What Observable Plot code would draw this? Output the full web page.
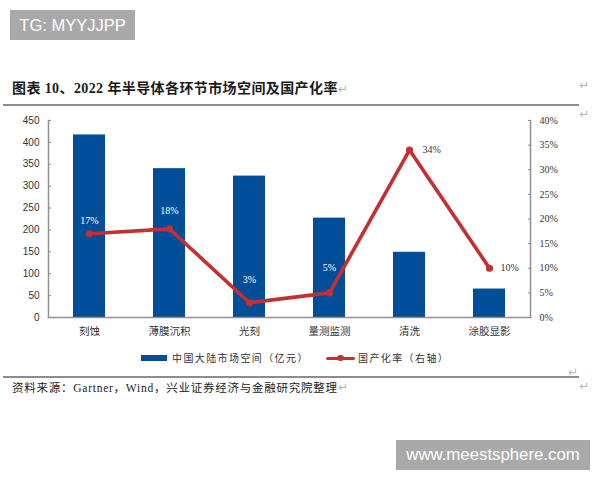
<!DOCTYPE html>
<html><head><meta charset="utf-8">
<script src="https://cdn.jsdelivr.net/npm/d3@7"></script>
<script src="https://cdn.jsdelivr.net/npm/@observablehq/plot@0.6"></script>
<style>
html,body{margin:0;padding:0;background:#fff;width:600px;height:480px;overflow:hidden}
#root{position:relative;width:600px;height:480px;font-family:"Noto Sans CJK SC",sans-serif}
#root svg{position:absolute;left:0;top:0}
.a{position:absolute;white-space:nowrap}
.badge{background:#a9a9a9;color:#fff;font-family:"Liberation Sans",sans-serif;text-align:center;height:30px;line-height:30px}
.rule{background:#8c8c8c;height:2px}
.ret{color:#b5b5b5;font-family:"DejaVu Sans",sans-serif;font-size:12px;line-height:12px}
.leg{font-size:10px;color:#333;letter-spacing:1.4px;line-height:14px}
</style></head><body><div id="root"></div>
<script>
const categories=["刻蚀","薄膜沉积","光刻","量测监测","清洗","涂胶显影"];
const marketSize=[417,340,323,227,149,65];
const localRate=[17,18,3,5,34,10];
const leftTicks=[0,50,100,150,200,250,300,350,400,450];
const rightTicks=[0,5,10,15,20,25,30,35,40];
const titleText="图表 10、2022 年半导体各环节市场空间及国产化率";
const sourceText="资料来源：Gartner，Wind，兴业证券经济与金融研究院整理";
const legendBar="中国大陆市场空间（亿元）";
const legendLine="国产化率（右轴）";
const badgeLeft="TG: MYYJJPP";
const badgeRight="www.meestsphere.com";

const rows=categories.map((c,i)=>({c,v:marketSize[i],r:localRate[i],y2:localRate[i]*450/40,lab:localRate[i]+"%"}));
const LEFT=48,RIGHT=530,TOP=120,BOT=317;
const red="#c62f2f",blue="#004e97",axisGray="#8f8f8f";
const serif='"Liberation Serif",serif', sans='"Liberation Sans",sans-serif';
const inside=(i,dy)=>Plot.text([rows[i]],{x:"c",y:"y2",text:"lab",dy,fill:"#fff",fontSize:10,fontFamily:serif});
const outside=(i,dx)=>Plot.text([rows[i]],{x:"c",y:"y2",text:"lab",dx,textAnchor:"start",fill:"#333",fontSize:10,fontFamily:serif});

const chart=Plot.plot({
  width:600,height:480,
  marginLeft:LEFT,marginRight:600-RIGHT,marginTop:TOP,marginBottom:480-BOT,
  style:{background:"transparent",overflow:"visible"},
  x:{domain:categories,paddingInner:0.6,paddingOuter:0.3,label:null},
  y:{domain:[0,450],label:null},
  marks:[
    Plot.barY(rows,{x:"c",y:"v",fill:blue}),
    Plot.frame({anchor:"left",stroke:axisGray,strokeWidth:1.5}),
    Plot.frame({anchor:"right",stroke:axisGray,strokeWidth:1.5}),
    Plot.frame({anchor:"bottom",stroke:axisGray,strokeWidth:1.5}),
    Plot.axisY({anchor:"left",ticks:leftTicks,tickSize:-3,tickPadding:12,stroke:axisGray,fill:"#333",fontSize:10,fontFamily:sans,label:null}),
    Plot.axisY({anchor:"right",ticks:rightTicks.map(d=>d*450/40),tickFormat:d=>Math.round(d*40/450)+"%",tickSize:-3,tickPadding:12,stroke:axisGray,fill:"#333",fontSize:10,fontFamily:serif,label:null}),
    Plot.axisX({anchor:"bottom",tickSize:0,tickPadding:10,fill:"#333",fontSize:10.5,fontFamily:'"Noto Sans CJK SC",sans-serif',label:null,style:{letterSpacing:"1.4px"}}),
    Plot.line(rows,{x:"c",y:"y2",stroke:red,strokeWidth:3.6,strokeLinejoin:"miter"}),
    Plot.dot(rows,{x:"c",y:"y2",r:3.6,fill:red}),
    inside(0,-13),inside(1,-18),inside(2,-23),inside(3,-25),
    outside(4,13),outside(5,11)
  ]
});
const root=document.getElementById("root");
root.appendChild(chart);
function add(cls,css,text){const d=document.createElement("div");d.className="a "+cls;d.style.cssText=css;if(text!=null)d.textContent=text;root.appendChild(d);return d}
add("badge","left:10px;top:10px;width:125px;font-size:16.5px",badgeLeft);
add("badge","left:396px;top:440px;width:194px;font-size:16.8px",badgeRight);
add("","left:12px;top:80px;font-size:14px;font-weight:700;color:#1a1a1a;line-height:18px;letter-spacing:0.4px;font-family:'Liberation Serif','Noto Sans CJK SC',serif",titleText);
add("rule","left:3px;top:104px;width:576px");
add("rule","left:3px;top:376px;width:576px");
add("","left:12px;top:380px;font-size:11.5px;color:#222;line-height:16px;letter-spacing:0.75px;font-family:'Liberation Serif','Noto Sans CJK SC',serif",sourceText);
add("","left:141px;top:355px;width:26px;height:6px;background:"+blue);
add("leg","left:172px;top:351px",legendBar);
add("","left:326px;top:356.5px;width:29px;height:3px;border-radius:2px;background:"+red);
add("","left:337px;top:355px;width:7px;height:6px;border-radius:50%;background:"+red);
add("leg","left:358px;top:351px",legendLine);
[[338,83],[579,79],[579,108],[568,366],[579,380],[338,381]].forEach(([l,t])=>add("ret",`left:${l}px;top:${t}px`,"↵"));
</script></body></html>
